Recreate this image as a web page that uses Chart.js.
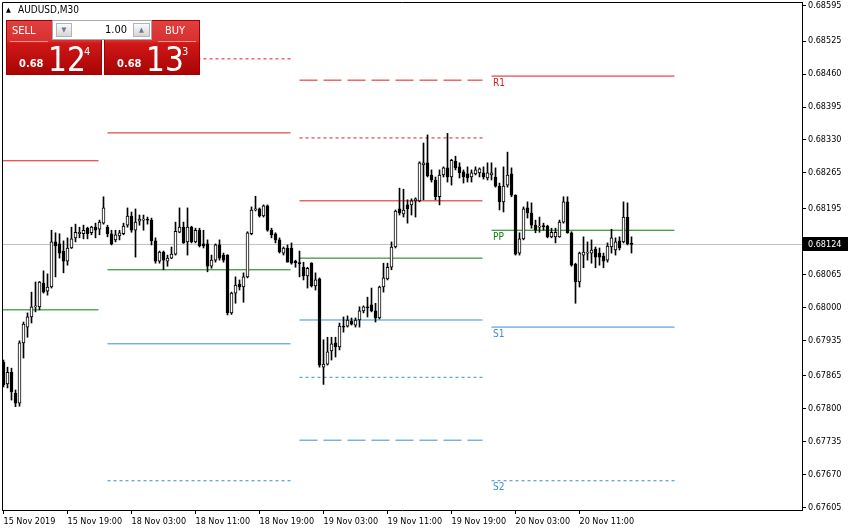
<!DOCTYPE html>
<html><head><meta charset="utf-8">
<script src="https://cdn.jsdelivr.net/npm/chart.js@4.4.0/dist/chart.umd.min.js"></script>
<style>
html,body{margin:0;padding:0;background:#fff;}
#wrap{position:relative;width:848px;height:531px;overflow:hidden;}
canvas{position:absolute;left:0;top:0;}
.ov{position:absolute;font-family:'DejaVu Sans Condensed','DejaVu Sans',sans-serif;white-space:nowrap;line-height:1;}
.redbox{background:linear-gradient(to bottom,#e04040 0%,#d83030 38%,#d01818 42%,#a80404 100%);border:1px solid #a00000;box-sizing:border-box;}
.wt{color:#fff;}
.btn{background:linear-gradient(to bottom,#fafafa,#d6d6d6);border:1px solid #b4b4b4;box-sizing:border-box;color:#6a7a90;font-size:7px;text-align:center;line-height:12px;}
</style></head><body>
<div id="wrap">
<canvas id="c" width="848" height="531"></canvas>
<div class="ov" style="left:6px;top:7px;font-size:7px;">▲</div>
<div class="ov" style="left:18px;top:5px;font-size:10px;color:#000;">AUDUSD,M30</div>
<div class="ov redbox" style="left:6px;top:20px;width:96px;height:55px;"></div>
<div class="ov redbox" style="left:104px;top:20px;width:96px;height:55px;"></div>
<div class="ov wt" style="left:12px;top:25px;font-size:11px;">SELL</div>
<div class="ov" style="left:10px;top:41px;width:38px;height:1px;background:#f09090;"></div>
<div class="ov wt" style="left:165px;top:25px;font-size:11px;">BUY</div>
<div class="ov" style="left:158px;top:41px;width:38px;height:1px;background:#f09090;"></div>
<div class="ov" style="left:52px;top:20px;width:100px;height:20px;background:#fff;border:1px solid #a8a8a8;box-sizing:border-box;"></div>
<div class="ov btn" style="left:56px;top:23px;width:16px;height:14px;">▼</div>
<div class="ov" style="left:78px;top:24px;width:49px;text-align:right;font-size:11px;color:#000;">1.00</div>
<div class="ov btn" style="left:133px;top:23px;width:17px;height:14px;">▲</div>
<div class="ov wt" style="left:19px;top:58px;font-size:11px;font-weight:bold;">0.68</div>
<div class="ov wt" style="left:48px;top:43px;font-size:33px;font-family:'Liberation Sans Narrow','DejaVu Sans Condensed',sans-serif;">12</div>
<div class="ov wt" style="left:84px;top:46px;font-size:11px;">4</div>
<div class="ov wt" style="left:117px;top:58px;font-size:11px;font-weight:bold;">0.68</div>
<div class="ov wt" style="left:146px;top:43px;font-size:33px;font-family:'Liberation Sans Narrow','DejaVu Sans Condensed',sans-serif;">13</div>
<div class="ov wt" style="left:182px;top:46px;font-size:11px;">3</div>
</div>
<script>
// ---- data (AUDUSD M30, bar index 0 = 15 Nov 2019 11:00) ----
const open = [0.67892,0.67849,0.67872,0.67831,0.67811,0.67930,0.67961,0.67981,0.68001,0.68001,
0.68048,0.68032,0.68040,0.68129,0.68125,0.68111,0.68091,0.68117,0.68137,0.68145,
0.68145,0.68156,0.68147,0.68158,0.68154,0.68166,0.68158,0.68145,0.68133,0.68141,
0.68145,0.68162,0.68180,0.68152,0.68170,0.68172,0.68174,0.68172,0.68131,0.68091,
0.68109,0.68091,0.68097,0.68105,0.68148,0.68158,0.68129,0.68158,0.68129,0.68152,
0.68125,0.68125,0.68081,0.68093,0.68123,0.68103,0.68103,0.67989,0.68028,0.68046,
0.68040,0.68060,0.68145,0.68192,0.68194,0.68180,0.68200,0.68152,0.68145,0.68133,
0.68107,0.68117,0.68117,0.68091,0.68088,0.68079,0.68062,0.68087,0.68042,0.68056,
0.67882,0.67888,0.67914,0.67930,0.67922,0.67963,0.67963,0.67973,0.67965,0.67975,
0.67993,0.68001,0.68005,0.67993,0.67979,0.68040,0.68056,0.68079,0.68119,0.68194,
0.68184,0.68202,0.68202,0.68210,0.68210,0.68281,0.68285,0.68261,0.68251,0.68218,
0.68261,0.68275,0.68257,0.68288,0.68277,0.68267,0.68263,0.68257,0.68263,0.68265,
0.68265,0.68255,0.68261,0.68257,0.68239,0.68208,0.68241,0.68263,0.68221,0.68107,
0.68135,0.68196,0.68186,0.68162,0.68158,0.68160,0.68160,0.68139,0.68139,0.68139,
0.68168,0.68208,0.68147,0.68085,0.68050,0.68103,0.68107,0.68107,0.68115,0.68107,
0.68101,0.68093,0.68119,0.68113,0.68131,0.68129,0.68178,0.68125];
const high = [0.67896,0.67882,0.67880,0.67837,0.67934,0.67971,0.67989,0.68030,0.68050,0.68051,
0.68072,0.68066,0.68152,0.68147,0.68145,0.68131,0.68137,0.68158,0.68164,0.68158,
0.68162,0.68158,0.68160,0.68166,0.68172,0.68218,0.68162,0.68152,0.68152,0.68152,
0.68166,0.68196,0.68188,0.68194,0.68182,0.68182,0.68178,0.68176,0.68137,0.68111,
0.68111,0.68103,0.68119,0.68168,0.68196,0.68168,0.68196,0.68160,0.68156,0.68156,
0.68152,0.68133,0.68103,0.68125,0.68133,0.68107,0.68104,0.68030,0.68060,0.68054,
0.68068,0.68149,0.68198,0.68219,0.68196,0.68202,0.68202,0.68156,0.68147,0.68137,
0.68119,0.68123,0.68127,0.68093,0.68111,0.68089,0.68079,0.68088,0.68068,0.68058,
0.67936,0.67941,0.67941,0.67941,0.67969,0.67981,0.67983,0.67979,0.67979,0.68001,
0.68003,0.68020,0.68038,0.68008,0.68042,0.68087,0.68087,0.68129,0.68192,0.68235,
0.68233,0.68212,0.68214,0.68216,0.68287,0.68324,0.68340,0.68271,0.68257,0.68271,
0.68277,0.68343,0.68292,0.68298,0.68285,0.68271,0.68277,0.68271,0.68277,0.68275,
0.68277,0.68285,0.68285,0.68275,0.68245,0.68277,0.68306,0.68275,0.68222,0.68147,
0.68198,0.68208,0.68206,0.68172,0.68178,0.68166,0.68162,0.68156,0.68156,0.68172,
0.68218,0.68218,0.68149,0.68087,0.68109,0.68139,0.68129,0.68133,0.68119,0.68117,
0.68107,0.68127,0.68154,0.68137,0.68139,0.68208,0.68206,0.68139];
const low = [0.67843,0.67841,0.67817,0.67804,0.67805,0.67900,0.67941,0.67969,0.67991,0.67995,
0.68028,0.68024,0.68038,0.68060,0.68097,0.68068,0.68083,0.68116,0.68129,0.68137,
0.68135,0.68135,0.68143,0.68137,0.68143,0.68164,0.68139,0.68123,0.68129,0.68133,
0.68143,0.68158,0.68148,0.68099,0.68162,0.68152,0.68164,0.68123,0.68087,0.68087,
0.68074,0.68081,0.68096,0.68103,0.68147,0.68126,0.68103,0.68127,0.68127,0.68119,
0.68117,0.68070,0.68077,0.68089,0.68093,0.68089,0.67985,0.67986,0.68008,0.68034,
0.68010,0.68058,0.68143,0.68190,0.68178,0.68178,0.68150,0.68137,0.68127,0.68107,
0.68103,0.68089,0.68085,0.68079,0.68060,0.68054,0.68038,0.68040,0.68034,0.67882,
0.67848,0.67886,0.67896,0.67902,0.67916,0.67951,0.67961,0.67965,0.67961,0.67961,
0.67989,0.67981,0.67991,0.67971,0.67977,0.68030,0.68054,0.68074,0.68117,0.68182,
0.68178,0.68166,0.68182,0.68178,0.68208,0.68212,0.68257,0.68247,0.68212,0.68202,
0.68257,0.68247,0.68241,0.68271,0.68255,0.68245,0.68247,0.68247,0.68261,0.68257,
0.68253,0.68251,0.68251,0.68237,0.68192,0.68188,0.68237,0.68218,0.68103,0.68103,
0.68133,0.68176,0.68156,0.68147,0.68148,0.68152,0.68137,0.68137,0.68127,0.68138,
0.68166,0.68146,0.68081,0.68008,0.68040,0.68078,0.68093,0.68087,0.68078,0.68083,
0.68078,0.68089,0.68107,0.68103,0.68113,0.68127,0.68123,0.68107];
const close = [0.67847,0.67872,0.67833,0.67811,0.67930,0.67967,0.67981,0.68001,0.68003,0.68050,
0.68030,0.68040,0.68129,0.68121,0.68107,0.68091,0.68117,0.68135,0.68148,0.68148,
0.68152,0.68145,0.68158,0.68152,0.68168,0.68196,0.68145,0.68125,0.68143,0.68147,
0.68160,0.68180,0.68152,0.68168,0.68174,0.68174,0.68172,0.68131,0.68091,0.68109,
0.68093,0.68097,0.68105,0.68150,0.68158,0.68127,0.68158,0.68129,0.68152,0.68121,
0.68121,0.68081,0.68093,0.68123,0.68097,0.68093,0.67989,0.68028,0.68044,0.68040,
0.68060,0.68147,0.68192,0.68194,0.68180,0.68200,0.68152,0.68143,0.68133,0.68109,
0.68117,0.68089,0.68087,0.68088,0.68086,0.68062,0.68077,0.68042,0.68054,0.67886,
0.67888,0.67912,0.67928,0.67922,0.67963,0.67961,0.67975,0.67967,0.67975,0.67993,
0.68001,0.67999,0.67993,0.67979,0.68040,0.68058,0.68079,0.68119,0.68190,0.68186,
0.68192,0.68194,0.68210,0.68214,0.68285,0.68285,0.68259,0.68251,0.68218,0.68261,
0.68275,0.68257,0.68290,0.68275,0.68265,0.68257,0.68255,0.68265,0.68271,0.68273,
0.68257,0.68265,0.68265,0.68239,0.68208,0.68239,0.68261,0.68221,0.68105,0.68135,
0.68194,0.68186,0.68162,0.68152,0.68160,0.68159,0.68139,0.68148,0.68148,0.68168,
0.68208,0.68147,0.68083,0.68050,0.68107,0.68109,0.68109,0.68113,0.68099,0.68099,
0.68091,0.68121,0.68137,0.68129,0.68117,0.68178,0.68125,0.68124];

const currentPrice = 0.68124;

// x-axis tick labels (bar index, text)
const xTickIdx = [0,16,32,48,64,80,96,112,128,144];
const xTickLabels = ['15 Nov 2019','15 Nov 19:00','18 Nov 03:00','18 Nov 11:00','18 Nov 19:00',
  '19 Nov 03:00','19 Nov 11:00','19 Nov 19:00','20 Nov 03:00','20 Nov 11:00'];
// y-axis tick labels
const yTickVals = [0.68595,0.68525,0.68460,0.68395,0.68330,0.68265,0.68195,0.68065,0.68000,
  0.67935,0.67865,0.67800,0.67735,0.67670,0.67605];

// daily pivot levels: first bar index of each day and values
const pivotDayStart = [-22, 26, 74, 122];
const pivotR3 = [null, null, 0.68448, null];
const pivotR2 = [null, 0.68490, 0.68334, null];
const pivotR1 = [0.68289, 0.68344, 0.68210, 0.68456];
const pivotPP = [0.67995, 0.68074, 0.68097, 0.68152];
const pivotS1 = [null, 0.67928, 0.67975, 0.67961];
const pivotS2 = [null, 0.67658, 0.67862, 0.67658];
const pivotS3 = [null, null, 0.67738, null];
const pivotLabels = ['R1','PP','S1','S2'];   // shown on the last day

// ---- build datasets ----
const RED = '#dc1c1c', GREEN = '#0a7d0a', BLUE = '#3a8ed6';
const levels = [
  {v: pivotR3, c: RED, d: [18,6]}, {v: pivotR2, c: RED, d: [3,3]}, {v: pivotR1, c: RED, d: []},
  {v: pivotPP, c: GREEN, d: []},
  {v: pivotS1, c: BLUE, d: []}, {v: pivotS2, c: BLUE, d: [3,3]}, {v: pivotS3, c: BLUE, d: [18,6]}
];
const datasets = [];
datasets.push({
  type: 'line', data: [{x: -10, y: currentPrice}, {x: 210, y: currentPrice}],
  borderColor: '#c0c0c0', borderWidth: 1, pointRadius: 0, order: 6
});
levels.forEach(L => {
  pivotDayStart.forEach((s, k) => {
    if (L.v[k] == null) return;
    datasets.push({
      type: 'line', data: [{x: s, y: L.v[k]}, {x: s + 45.75, y: L.v[k]}],
      borderColor: L.c, borderWidth: 1, borderDash: L.d, pointRadius: 0, order: 5
    });
  });
});
const idx = open.map((_, i) => i);
datasets.push({
  type: 'bar', grouped: false, order: 2,
  data: idx.map(i => ({x: i, y: [low[i], high[i]]})),
  backgroundColor: '#000', borderWidth: 0, barThickness: 1, minBarLength: 1
});
datasets.push({
  type: 'bar', grouped: false, order: 1,
  data: idx.map(i => ({x: i, y: [Math.min(open[i], close[i]), Math.max(open[i], close[i])]})),
  backgroundColor: idx.map(i => close[i] >= open[i] ? '#ffffff' : '#000000'),
  borderColor: '#000', borderWidth: 1, borderSkipped: false, barThickness: 3, minBarLength: 1
});

const TICKFONT = {family: "'DejaVu Sans Condensed','DejaVu Sans',sans-serif", size: 9};

const overlay = {
  id: 'overlay',
  afterDraw(chart) {
    const {ctx, chartArea: a, scales: {x, y}} = chart;
    ctx.save();
    ctx.strokeStyle = '#000'; ctx.lineWidth = 1;
    ctx.beginPath();
    ctx.moveTo(a.left + 0.5, a.bottom); ctx.lineTo(a.left + 0.5, a.top + 0.5); ctx.lineTo(a.right + 1, a.top + 0.5);
    ctx.stroke();
    // pivot labels on the last day
    const last = pivotDayStart.length - 1;
    const vals = [pivotR1[last], pivotPP[last], pivotS1[last], pivotS2[last]];
    const cols = [RED, GREEN, BLUE, BLUE];
    ctx.font = "10px 'DejaVu Sans Condensed','DejaVu Sans',sans-serif";
    ctx.textBaseline = 'top'; ctx.textAlign = 'left';
    vals.forEach((v, k) => {
      ctx.fillStyle = cols[k];
      ctx.fillText(pivotLabels[k], x.getPixelForValue(pivotDayStart[last]) + 1.5, y.getPixelForValue(v) + 2);
    });
    // current price tag
    const py = Math.round(y.getPixelForValue(currentPrice));
    ctx.fillStyle = '#000';
    ctx.fillRect(a.right + 1, py - 7, 46, 14);
    ctx.fillStyle = '#fff';
    ctx.font = "9px 'DejaVu Sans Condensed','DejaVu Sans',sans-serif";
    ctx.textBaseline = 'middle';
    ctx.fillText(currentPrice.toFixed(5), a.right + 6, py + 0.5);
    ctx.restore();
  }
};

new Chart(document.getElementById('c'), {
  type: 'bar',
  data: {datasets},
  plugins: [overlay],
  options: {
    responsive: false, animation: false, devicePixelRatio: 1,
    layout: {padding: {left: 2, top: 2, right: 0, bottom: 0}},
    plugins: {legend: {display: false}, tooltip: {enabled: false}},
    scales: {
      x: {
        type: 'linear', min: -0.375, max: 199.625, offset: false, position: 'bottom',
        afterBuildTicks: s => { s.ticks = xTickIdx.map(v => ({value: v})); },
        afterFit: s => { s.height = 21; s.paddingLeft = 0; s.paddingRight = 0; s.paddingTop = 0; s.paddingBottom = 0; },
        grid: {display: true, drawOnChartArea: false, drawTicks: true, tickLength: 4, color: '#000', offset: false},
        border: {display: true, color: '#000'},
        ticks: {autoSkip: false, maxRotation: 0, minRotation: 0, align: 'start', padding: 2,
          color: '#000', font: TICKFONT, callback: (v, i) => xTickLabels[i]}
      },
      y: {
        type: 'linear', position: 'right', min: 0.676003, max: 0.686021,
        afterBuildTicks: s => { s.ticks = yTickVals.map(v => ({value: v})); },
        afterFit: s => { s.width = 46; s.paddingLeft = 0; s.paddingRight = 0; s.paddingTop = 0; s.paddingBottom = 0; },
        grid: {display: true, drawOnChartArea: false, drawTicks: true, tickLength: 4, color: '#000'},
        border: {display: true, color: '#000'},
        ticks: {padding: 2, color: '#000', font: TICKFONT, callback: v => v.toFixed(5)}
      }
    }
  }
});
</script>
</body></html>
